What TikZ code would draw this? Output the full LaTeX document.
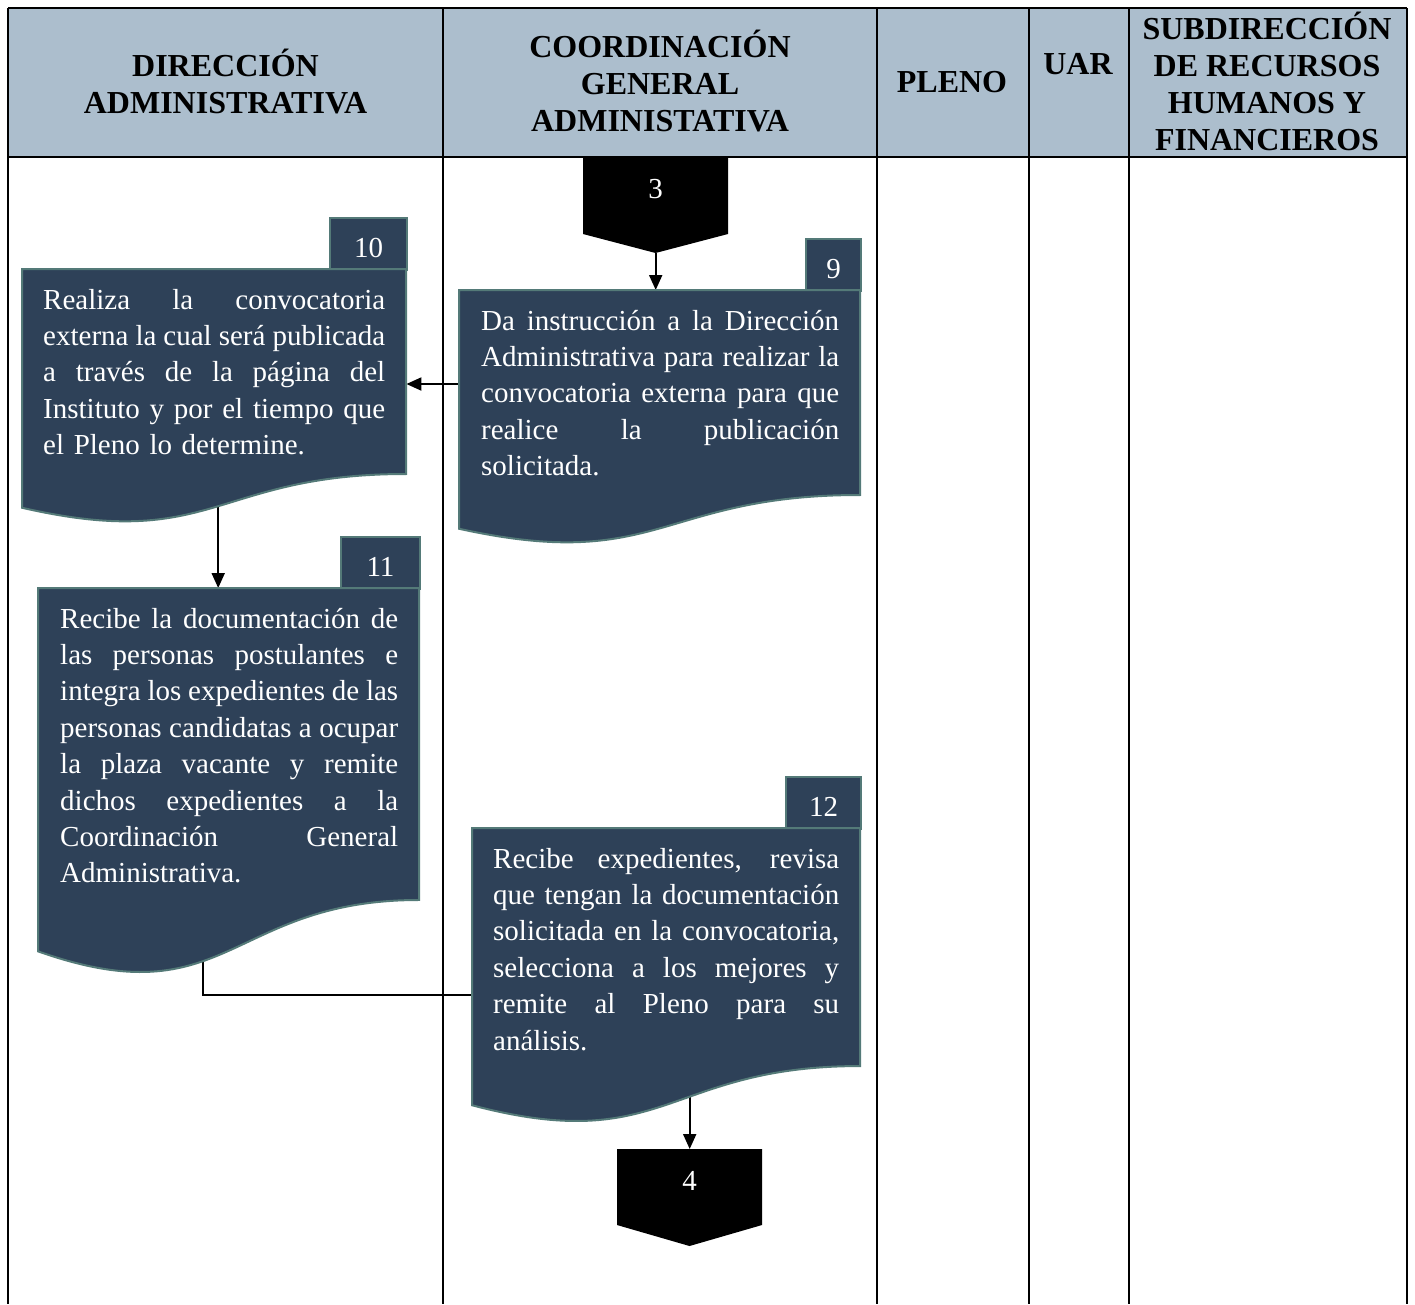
\documentclass[tikz,border=0pt]{standalone}
\usepackage{fontspec}
\setmainfont{Liberation Serif}
\usetikzlibrary{arrows.meta}
\definecolor{hdr}{RGB}{172,190,205}
\definecolor{docfill}{RGB}{46,65,88}
\definecolor{docline}{RGB}{84,122,120}
\setlength{\parskip}{0pt}
\newcommand{\jl}[1]{\noindent\hbox to\hsize{\spaceskip=0.25em plus 1em minus 0.12em\relax #1}\par}
\newcommand{\lastln}[1]{\noindent\hbox{#1}\par}
\newcommand{\docshape}[4]{%
  \pgfmathsetmacro\dsYr{#2+0.802*#4}%
  \pgfmathsetmacro\dsYl{#2+0.934*#4}%
  \pgfmathsetmacro\dsYc{#2+1.107*#4}%
  \pgfmathsetmacro\dsXm{(#1+#3)/2}%
  \path[docshp] (#1,#2) -- (#3,#2) -- (#3,\dsYr) .. controls (\dsXm,\dsYr) and (\dsXm,\dsYc) .. (#1,\dsYl) -- cycle;}
\hbadness=10000
\hfuzz=20pt
\begin{document}
\begin{tikzpicture}[x=1pt,y=-1pt,
  tbl/.style={line width=2pt, black},
  hdrtxt/.style={font=\fontsize{32}{37}\selectfont\bfseries, align=center, inner sep=0},
  bodytxt/.style={font=\fontsize{29}{36.4}\selectfont, text=white, align=left, inner sep=0, anchor=base west},
  docshp/.style={fill=docfill, draw=docline, line width=2pt},
  docframe/.style={inner sep=0, anchor=north west},
  numtab/.style={fill=docfill, draw=docline, line width=2pt, text=white, font=\fontsize{29}{34}\selectfont, inner sep=0, anchor=north west, text height=27pt, text depth=0pt},
  plainline/.style={line width=2pt},
  arr/.style={line width=2pt, -{Triangle[length=15pt,width=13pt]}},
  offtxt/.style={text=white, font=\fontsize{29}{34}\selectfont, inner sep=0}
]
\useasboundingbox (0,0) rectangle (1415,1304);
\fill[white] (0,0) rectangle (1415,1304);
% header
\fill[hdr] (8,8) rectangle (1407,157);
\draw[tbl] (8,8) -- (1407,8);
\draw[tbl] (8,157) -- (1407,157);
\foreach \xx in {8,443,877,1029,1129,1407} \draw[tbl] (\xx,8) -- (\xx,1304);
\node[hdrtxt] (h1) at (225.5,82) {DIRECCIÓN\\ADMINISTRATIVA};
\node[hdrtxt] (h2) at (660,81) {COORDINACIÓN\\GENERAL\\ADMINISTATIVA};
\node[hdrtxt] (h3) at (952,82) {PLENO};
\node[hdrtxt] (h4) at (1078,64) {UAR};
\node[hdrtxt] (h5) at (1267,81.5) {SUBDIRECCIÓN\\DE RECURSOS\\HUMANOS Y\\FINANCIEROS};

% frames (names)
\node[docframe, minimum width=384, minimum height=238.7] (b10) at (22,269) {};
\node[docframe, minimum width=401, minimum height=238.7] (b9) at (459,290) {};
\node[docframe, minimum width=381, minimum height=363.3] (b11) at (38,588) {};
\node[docframe, minimum width=388, minimum height=277.2] (b12) at (472,828) {};
\node[docframe, minimum width=145, minimum height=96] (c3) at (583,157) {};
\node[docframe, minimum width=145, minimum height=97] (c4) at (617,1149) {};

% connectors
\draw[arr] (c3.south) -- (c3.south |- b9.north);
\draw[arr] ([yshift=-94pt]b9.north west) -- ([yshift=-94pt]b9.north west -| b10.east);
\draw[arr] ([xshift=4pt]b10.center) -- ([xshift=4pt]b10.center |- b11.north);
\draw[plainline] ([xshift=-25.5pt]b11.center) |- ([yshift=-28.5pt]b12.west);
\draw[arr] (b12.center -| c4.north) -- (c4.north);

% off-page connectors
\fill[black] (583,157) -- (728,157) -- (728,234) -- (655.5,253) -- (583,234) -- cycle;
\node[offtxt] (n3) at (655.5,189) {3};
\fill[black] (617,1149) -- (762,1149) -- (762,1225) -- (689.5,1246) -- (617,1225) -- cycle;
\node[offtxt] (n4) at (689.5,1181) {4};

% number tabs
\node[numtab, minimum width=77, minimum height=52] (t10) at (329,217) {10};
\node[numtab, minimum width=55, minimum height=52] (t9) at (805,238) {9};
\node[numtab, minimum width=79, minimum height=52] (t11) at (340,536) {11};
\node[numtab, minimum width=75, minimum height=52] (t12) at (785,776) {12};

% document shapes
\docshape{22}{269}{406}{255.6}
\docshape{459}{290}{860}{255.6}
\docshape{38}{588}{419}{389}
\docshape{472}{828}{860}{296.8}

% texts
\node[bodytxt, text width=342] (x10) at (43,309) {\jl{Realiza la convocatoria}\jl{externa la cual será publicada}\jl{a través de la página del}\jl{Instituto y por el tiempo que}\lastln{el Pleno lo determine.}};
\node[bodytxt, text width=358] (x9) at (481,330) {\jl{Da instrucción a la Dirección}\jl{Administrativa para realizar la}\jl{convocatoria externa para que}\jl{realice la publicación}\lastln{solicitada.}};
\node[bodytxt, text width=338] (x11) at (60,628) {\jl{Recibe la documentación de}\jl{las personas postulantes e}\jl{integra los expedientes de las}\jl{personas candidatas a ocupar}\jl{la plaza vacante y remite}\jl{dichos expedientes a la}\jl{Coordinación General}\lastln{Administrativa.}};
\node[bodytxt, text width=346] (x12) at (493,868) {\jl{Recibe expedientes, revisa}\jl{que tengan la documentación}\jl{solicitada en la convocatoria,}\jl{selecciona a los mejores y}\jl{remite al Pleno para su}\lastln{análisis.}};
\end{tikzpicture}
\end{document}
